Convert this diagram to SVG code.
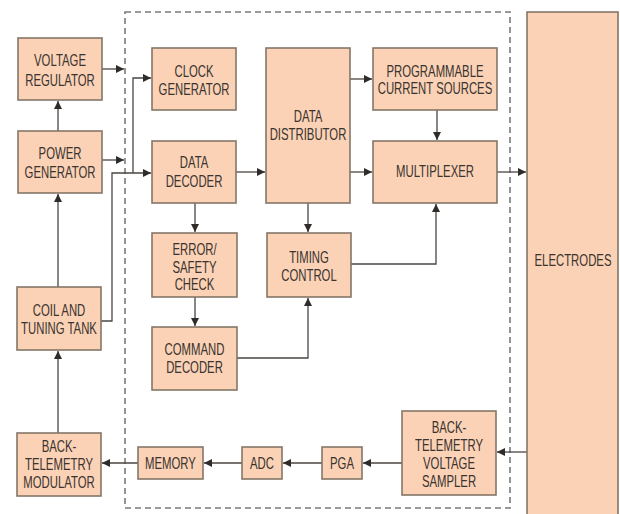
<svg xmlns="http://www.w3.org/2000/svg" width="620" height="514" viewBox="0 0 620 514">
<style>
.box{fill:#FBD2B6;stroke:#857668;stroke-width:1.6}
.t{font-family:"Liberation Sans",Arial,sans-serif;font-size:16px;fill:#3a332e;text-anchor:middle}
.ln{fill:none;stroke:#4a4542;stroke-width:1.3}
.dash{fill:none;stroke:#7a7a7a;stroke-width:1.6;stroke-dasharray:6 4}
</style>
<defs>
<marker id="ah" viewBox="0 0 10 10" refX="10" refY="5" markerWidth="8" markerHeight="8" markerUnits="userSpaceOnUse" orient="auto">
<path d="M0,0 L10,5 L0,10 z" fill="#2f2b29"/>
</marker>
</defs>
<rect width="620" height="514" fill="#ffffff"/>
<rect class="dash" x="125" y="12" width="385" height="496"/>

<g id="connectors">
<path class="ln" d="M102,69 H124" marker-end="url(#ah)"/>
<path class="ln" d="M58,131 V101" marker-end="url(#ah)"/>
<path class="ln" d="M102,160 H124" marker-end="url(#ah)"/>
<path class="ln" d="M58,287 V194" marker-end="url(#ah)"/>
<path class="ln" d="M101,321 H112 V173 H151" marker-end="url(#ah)"/>
<path class="ln" d="M133,173 V78 H151" marker-end="url(#ah)"/>
<path class="ln" d="M236,172 H265" marker-end="url(#ah)"/>
<path class="ln" d="M350,79 H372" marker-end="url(#ah)"/>
<path class="ln" d="M350,172 H372" marker-end="url(#ah)"/>
<path class="ln" d="M437,110 V140" marker-end="url(#ah)"/>
<path class="ln" d="M497,172 H526" marker-end="url(#ah)"/>
<path class="ln" d="M195,203 V232" marker-end="url(#ah)"/>
<path class="ln" d="M195,297 V326" marker-end="url(#ah)"/>
<path class="ln" d="M308,203 V232" marker-end="url(#ah)"/>
<path class="ln" d="M237,358 H308 V298" marker-end="url(#ah)"/>
<path class="ln" d="M351,264 H436 V204" marker-end="url(#ah)"/>
<path class="ln" d="M527,452 H497" marker-end="url(#ah)"/>
<path class="ln" d="M402,463 H363" marker-end="url(#ah)"/>
<path class="ln" d="M322,463 H283" marker-end="url(#ah)"/>
<path class="ln" d="M242,463 H204" marker-end="url(#ah)"/>
<path class="ln" d="M138,463 H102" marker-end="url(#ah)"/>
<path class="ln" d="M58,433 V351" marker-end="url(#ah)"/>
</g>

<g id="voltage-regulator"><rect class="box" x="18" y="38" width="84" height="62"/><g transform="translate(60 0) scale(0.71 1)"><text class="t" x="0" y="66.5">VOLTAGE</text><text class="t" x="0" y="86">REGULATOR</text></g></g>
<g id="power-generator"><rect class="box" x="18" y="131" width="84" height="62"/><g transform="translate(60 0) scale(0.71 1)"><text class="t" x="0" y="159.5">POWER</text><text class="t" x="0" y="178.5">GENERATOR</text></g></g>
<g id="coil-tuning-tank"><rect class="box" x="17" y="287" width="84" height="63"/><g transform="translate(59 0) scale(0.71 1)"><text class="t" x="0" y="316.5">COIL AND</text><text class="t" x="0" y="334">TUNING TANK</text></g></g>
<g id="back-telemetry-modulator"><rect class="box" x="17" y="433" width="84" height="63"/><g transform="translate(59 0) scale(0.71 1)"><text class="t" x="0" y="452">BACK-</text><text class="t" x="0" y="470">TELEMETRY</text><text class="t" x="0" y="488">MODULATOR</text></g></g>
<g id="clock-generator"><rect class="box" x="152" y="48" width="84" height="62"/><g transform="translate(194 0) scale(0.71 1)"><text class="t" x="0" y="77">CLOCK</text><text class="t" x="0" y="95">GENERATOR</text></g></g>
<g id="data-decoder"><rect class="box" x="152" y="141" width="84" height="62"/><g transform="translate(194 0) scale(0.71 1)"><text class="t" x="0" y="168.5">DATA</text><text class="t" x="0" y="187">DECODER</text></g></g>
<g id="error-safety-check"><rect class="box" x="152" y="233" width="85" height="64"/><g transform="translate(194.5 0) scale(0.71 1)"><text class="t" x="0" y="255">ERROR/</text><text class="t" x="0" y="273">SAFETY</text><text class="t" x="0" y="290.5">CHECK</text></g></g>
<g id="command-decoder"><rect class="box" x="152" y="327" width="85" height="63"/><g transform="translate(194.5 0) scale(0.71 1)"><text class="t" x="0" y="355">COMMAND</text><text class="t" x="0" y="373">DECODER</text></g></g>
<g id="data-distributor"><rect class="box" x="266" y="48" width="84" height="155"/><g transform="translate(308 0) scale(0.71 1)"><text class="t" x="0" y="122">DATA</text><text class="t" x="0" y="140">DISTRIBUTOR</text></g></g>
<g id="timing-control"><rect class="box" x="267" y="233" width="84" height="64"/><g transform="translate(309 0) scale(0.71 1)"><text class="t" x="0" y="263">TIMING</text><text class="t" x="0" y="281.5">CONTROL</text></g></g>
<g id="programmable-current-sources"><rect class="box" x="373" y="48" width="124" height="62"/><g transform="translate(435 0) scale(0.71 1)"><text class="t" x="0" y="77">PROGRAMMABLE</text><text class="t" x="0" y="94.5">CURRENT SOURCES</text></g></g>
<g id="multiplexer"><rect class="box" x="373" y="141" width="124" height="62"/><g transform="translate(435 0) scale(0.71 1)"><text class="t" x="0" y="177">MULTIPLEXER</text></g></g>
<g id="electrodes"><rect class="box" x="527" y="12" width="91" height="506"/><g transform="translate(573 0) scale(0.71 1)"><text class="t" x="0" y="266.5">ELECTRODES</text></g></g>
<g id="back-telemetry-voltage-sampler"><rect class="box" x="402" y="411" width="94" height="84"/><g transform="translate(449 0) scale(0.71 1)"><text class="t" x="0" y="433">BACK-</text><text class="t" x="0" y="451">TELEMETRY</text><text class="t" x="0" y="469">VOLTAGE</text><text class="t" x="0" y="487">SAMPLER</text></g></g>
<g id="pga"><rect class="box" x="322" y="447" width="40" height="32"/><g transform="translate(342 0) scale(0.71 1)"><text class="t" x="0" y="469.5">PGA</text></g></g>
<g id="adc"><rect class="box" x="242" y="447" width="40" height="32"/><g transform="translate(262 0) scale(0.71 1)"><text class="t" x="0" y="469.5">ADC</text></g></g>
<g id="memory"><rect class="box" x="138" y="447" width="65" height="32"/><g transform="translate(170.5 0) scale(0.71 1)"><text class="t" x="0" y="469.5">MEMORY</text></g></g>
</svg>
